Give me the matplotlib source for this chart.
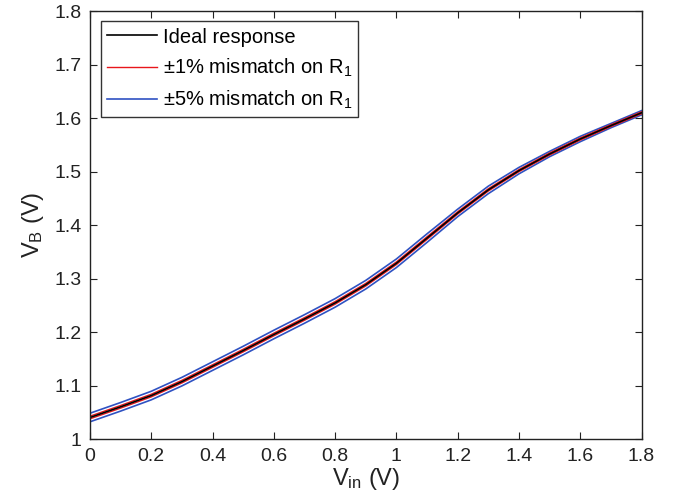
import matplotlib
matplotlib.use("Agg")
import matplotlib.pyplot as plt

plt.rcParams['font.family'] = ['Liberation Sans', 'DejaVu Sans']
plt.rcParams['mathtext.fontset'] = 'custom'
plt.rcParams['mathtext.rm'] = 'Liberation Sans'
plt.rcParams['mathtext.default'] = 'regular'

# data
vin = [0.0, 0.1, 0.2, 0.3, 0.4, 0.5, 0.6, 0.7, 0.8, 0.9,
       1.0, 1.1, 1.2, 1.3, 1.4, 1.5, 1.6, 1.7, 1.8]
vb_ideal = [1.041, 1.061, 1.082, 1.108, 1.137, 1.166, 1.196, 1.225, 1.255, 1.289,
            1.329, 1.376, 1.423, 1.466, 1.502, 1.533, 1.561, 1.586, 1.610]
vb_1pct_hi = [1.0435, 1.0635, 1.0845, 1.1105, 1.1395, 1.1685, 1.1985, 1.2275, 1.2575, 1.2915,
              1.3315, 1.3785, 1.4252, 1.4682, 1.5040, 1.5350, 1.5630, 1.5878, 1.6118]
vb_1pct_lo = [1.0385, 1.0585, 1.0795, 1.1055, 1.1345, 1.1635, 1.1935, 1.2225, 1.2525, 1.2865,
              1.3265, 1.3735, 1.4208, 1.4638, 1.5000, 1.5310, 1.5590, 1.5842, 1.6082]
vb_5pct_hi = [1.049, 1.069, 1.090, 1.116, 1.145, 1.174, 1.204, 1.233, 1.263, 1.297,
              1.337, 1.384, 1.430, 1.473, 1.508, 1.538, 1.566, 1.590, 1.614]
vb_5pct_lo = [1.033, 1.053, 1.074, 1.100, 1.129, 1.158, 1.188, 1.217, 1.247, 1.281,
              1.321, 1.368, 1.416, 1.459, 1.496, 1.528, 1.556, 1.582, 1.606]

xticks = [0, 0.2, 0.4, 0.6, 0.8, 1.0, 1.2, 1.4, 1.6, 1.8]
xtick_labels = ['0', '0.2', '0.4', '0.6', '0.8', '1', '1.2', '1.4', '1.6', '1.8']
yticks = [1.0, 1.1, 1.2, 1.3, 1.4, 1.5, 1.6, 1.7, 1.8]
ytick_labels = ['1', '1.1', '1.2', '1.3', '1.4', '1.5', '1.6', '1.7', '1.8']

BLUE = '#2f52c2'
RED = '#e8161b'

fig = plt.figure(figsize=(6.79, 5.01), dpi=100)
ax = fig.add_axes([0.1325, 0.1228, 0.8123, 0.8552])

# blue first, then red, black on top
ax.plot(vin, vb_5pct_hi, color=BLUE, lw=1.2, label=r'$\pm$5% mismatch on R$_1$')
ax.plot(vin, vb_5pct_lo, color=BLUE, lw=1.2)
ax.plot(vin, vb_1pct_hi, color=RED, lw=1.0, label=r'$\pm$1% mismatch on R$_1$')
ax.plot(vin, vb_1pct_lo, color=RED, lw=1.0)
ax.plot(vin, vb_ideal, color='black', lw=1.2, label='Ideal response')

ax.set_xlim(0, 1.8)
ax.set_ylim(1.0, 1.8)
ax.set_xticks(xticks)
ax.set_xticklabels(xtick_labels)
ax.set_yticks(yticks)
ax.set_yticklabels(ytick_labels)
ax.tick_params(direction='in', length=5, width=0.8, top=True, right=True,
               labelsize=14, pad=6, colors='#222222', labelcolor='#222222')
for s in ax.spines.values():
    s.set_linewidth(1.0)
    s.set_color('#222222')

ax.set_xlabel(r'V$_{in}$ (V)', fontsize=17, labelpad=1, color='#222222')
ax.set_ylabel(r'V$_B$ (V)', fontsize=17, labelpad=6, color='#222222')

handles, labels = ax.get_legend_handles_labels()
order = [2, 1, 0]
leg = ax.legend([handles[i] for i in order], [labels[i] for i in order],
                loc='upper left', bbox_to_anchor=(0.012, 0.985), fontsize=14.5,
                frameon=True, fancybox=False, edgecolor='black',
                handlelength=2.5, handletextpad=0.3, borderpad=0.3,
                labelspacing=0.5, borderaxespad=0.2)
leg.get_frame().set_linewidth(1.0)

fig.savefig('out.png', dpi=100)
